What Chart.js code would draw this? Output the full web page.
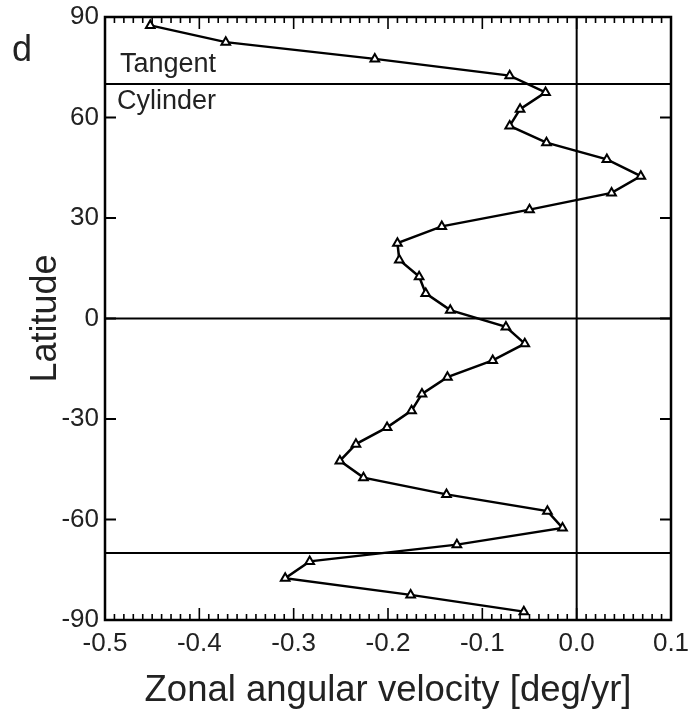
<!DOCTYPE html>
<html>
<head>
<meta charset="utf-8">
<script src="https://cdn.jsdelivr.net/npm/chart.js@4/dist/chart.umd.min.js"></script>
<style>
  html, body { margin: 0; padding: 0; background: #fff; }
  #wrap { width: 693px; height: 719px; }
</style>
</head>
<body>
<div id="wrap"><canvas id="chart" width="693" height="719"></canvas></div>
<script>
// Zonal angular velocity profile by latitude band (5-degree bins)
const latitudes = [87.5, 82.5, 77.5, 72.5, 67.5, 62.5, 57.5, 52.5, 47.5, 42.5, 37.5, 32.5,
  27.5, 22.5, 17.5, 12.5, 7.5, 2.5, -2.5, -7.5, -12.5, -17.5, -22.5, -27.5,
  -32.5, -37.5, -42.5, -47.5, -52.5, -57.5, -62.5, -67.5, -72.5, -77.5, -82.5, -87.5];
const angularVelocity = [-0.452, -0.372, -0.214, -0.071, -0.033, -0.060, -0.071, -0.032, 0.032, 0.068, 0.037, -0.050,
  -0.143, -0.190, -0.188, -0.167, -0.160, -0.134, -0.075, -0.055, -0.089, -0.137,
  -0.164, -0.175, -0.201, -0.234, -0.251, -0.226, -0.138, -0.031, -0.015, -0.127,
  -0.283, -0.309, -0.176, -0.056];

// Tangent-cylinder boundaries and the equator; zero-velocity reference
const boundaryLatitudes = [70, 0, -70];
const zeroVelocity = [0];
const xTickValues = [-0.5, -0.4, -0.3, -0.2, -0.1, 0.0, 0.1];
const yTickValues = [-90, -60, -30, 0, 30, 60, 90];

const FONT = "'Liberation Sans', Arial, Helvetica, sans-serif";
const INK = '#222';

const framePlugin = {
  id: 'frame',
  afterDatasetsDraw(chart) {
    const { ctx, chartArea: a, scales: { x, y } } = chart;
    ctx.save();
    ctx.strokeStyle = '#000';
    ctx.lineCap = 'butt';

    // reference lines
    ctx.lineWidth = 2;
    ctx.beginPath();
    boundaryLatitudes.forEach(lat => {
      const py = y.getPixelForValue(lat);
      ctx.moveTo(a.left, py);
      ctx.lineTo(a.right, py);
    });
    zeroVelocity.forEach(v => {
      const px = x.getPixelForValue(v);
      ctx.moveTo(px, a.top);
      ctx.lineTo(px, a.bottom);
    });
    ctx.stroke();

    // inward ticks: x minor every 0.01, major every 0.1
    ctx.lineWidth = 1.6;
    ctx.beginPath();
    for (let i = 0; i <= 60; i++) {
      const v = -0.5 + i * 0.01;
      const px = x.getPixelForValue(v);
      const len = (i % 10 === 0) ? 12 : 6;
      ctx.moveTo(px, a.bottom);
      ctx.lineTo(px, a.bottom - len);
      ctx.moveTo(px, a.top);
      ctx.lineTo(px, a.top + len);
    }
    ctx.stroke();
    ctx.lineWidth = 2;
    ctx.beginPath();
    yTickValues.forEach(v => {
      const py = y.getPixelForValue(v);
      ctx.moveTo(a.left, py);
      ctx.lineTo(a.left + 11, py);
      ctx.moveTo(a.right, py);
      ctx.lineTo(a.right - 11, py);
    });
    ctx.stroke();

    // frame
    ctx.lineWidth = 2.5;
    ctx.strokeRect(a.left, a.top, a.right - a.left, a.bottom - a.top);

    // annotations
    ctx.fillStyle = INK;
    ctx.textBaseline = 'alphabetic';
    ctx.textAlign = 'left';
    ctx.font = `27px ${FONT}`;
    const yBoundary = y.getPixelForValue(70);
    ctx.fillText('Tangent', a.left + 15, yBoundary - 12);
    ctx.fillText('Cylinder', a.left + 12, yBoundary + 25);
    ctx.font = `36px ${FONT}`;
    ctx.fillText('d', 12, 61);
    ctx.restore();
  }
};

new Chart(document.getElementById('chart'), {
  type: 'scatter',
  data: {
    datasets: [{
      data: latitudes.map((lat, i) => ({ x: angularVelocity[i], y: lat })),
      showLine: true,
      tension: 0,
      borderColor: '#000',
      borderWidth: 2.5,
      pointStyle: 'triangle',
      pointRadius: 5,
      pointBorderWidth: 2,
      pointBackgroundColor: '#fff',
      pointBorderColor: '#000',
      clip: false
    }]
  },
  options: {
    responsive: false,
    animation: false,
    devicePixelRatio: 1,
    layout: { padding: { top: 17, right: 22, left: 0, bottom: 0 } },
    plugins: { legend: { display: false }, tooltip: { enabled: false } },
    scales: {
      x: {
        type: 'linear',
        position: 'bottom',
        min: -0.5,
        max: 0.1,
        afterFit(s) { s.height = 99; s.paddingLeft = 0; s.paddingRight = 0; },
        afterBuildTicks(s) { s.ticks = xTickValues.map(v => ({ value: v })); },
        grid: { display: false, drawTicks: false },
        border: { display: false },
        ticks: {
          color: INK,
          padding: 8,
          maxRotation: 0,
          font: { family: FONT, size: 26 },
          callback: v => (Math.abs(v) < 1e-9 ? 0 : v).toFixed(1)
        },
        title: {
          display: true,
          text: 'Zonal angular velocity [deg/yr]',
          color: INK,
          font: { family: FONT, size: 36.5 },
          padding: { top: 0, bottom: 6 }
        }
      },
      y: {
        type: 'linear',
        min: -90,
        max: 90,
        afterFit(s) { s.width = 105; s.paddingTop = 0; s.paddingBottom = 0; },
        afterBuildTicks(s) { s.ticks = yTickValues.map(v => ({ value: v })); },
        grid: { display: false, drawTicks: false },
        border: { display: false },
        ticks: {
          color: INK,
          padding: 6,
          font: { family: FONT, size: 26 },
          callback: v => String(v)
        },
        title: {
          display: true,
          text: 'Latitude',
          color: INK,
          font: { family: FONT, size: 36 },
          padding: { top: 24, bottom: 0 }
        }
      }
    }
  },
  plugins: [framePlugin]
});
</script>
</body>
</html>
